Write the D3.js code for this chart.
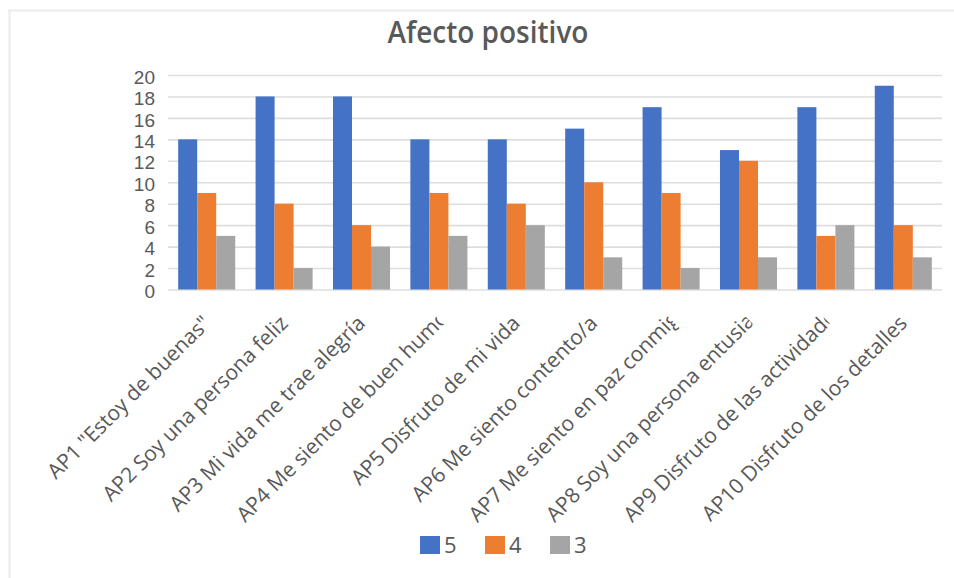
<!DOCTYPE html>
<html>
<head>
<meta charset="utf-8">
<script src="https://cdn.jsdelivr.net/npm/d3@7"></script>
<style>
  html, body { margin: 0; padding: 0; background: #fff; }
  svg { display: block; font-family: "Open Sans", "Noto Sans", sans-serif; }
</style>
</head>
<body>
<svg id="chart" width="954" height="578"></svg>
<script>
// Items of the "Afecto positivo" scale
const categories = [
  'AP1 "Estoy de buenas"',
  'AP2 Soy una persona feliz',
  'AP3 Mi vida me trae alegría',
  'AP4 Me siento de buen humor',
  'AP5 Disfruto de mi vida',
  'AP6 Me siento contento/a',
  'AP7 Me siento en paz conmigo',
  'AP8 Soy una persona entusiasta',
  'AP9 Disfruto de las actividades',
  'AP10 Disfruto de los detalles'
];
// Response counts per answer level
const seriesNames = ["5", "4", "3"];
const values5 = [14, 18, 18, 14, 14, 15, 17, 13, 17, 19];
const values4 = [9, 8, 6, 9, 8, 10, 9, 12, 5, 6];
const values3 = [5, 2, 4, 5, 6, 3, 2, 3, 6, 3];
const yTicks = [0, 2, 4, 6, 8, 10, 12, 14, 16, 18, 20];
const chartTitle = "Afecto positivo";

const seriesValues = [values5, values4, values3];
const colors = ["#4472C4", "#ED7D31", "#A5A5A5"];
const textColor = "#595959";

const svg = d3.select("#chart");

// Chart area frame (top and left edges)
svg.append("line").attr("x1", 8).attr("x2", 954).attr("y1", 10.5).attr("y2", 10.5)
  .attr("stroke", "#ebebeb").attr("stroke-width", 2);
svg.append("line").attr("x1", 9.5).attr("x2", 9.5).attr("y1", 10).attr("y2", 578)
  .attr("stroke", "#ebebeb").attr("stroke-width", 2);

const plot = { left: 168, right: 942, top: 75, bottom: 289.5 };

const y = d3.scaleLinear().domain([0, 20]).range([plot.bottom, plot.top]);
const x0 = d3.scaleBand().domain(categories).range([plot.left, plot.right]).paddingInner(0).paddingOuter(0);
const groupW = x0.bandwidth() * 0.737;
const groupOff = (x0.bandwidth() - groupW) / 2;
const x1 = d3.scaleBand().domain(seriesNames).range([0, groupW]).padding(0);

// Horizontal gridlines
const yAxis = d3.axisLeft(y).tickValues(yTicks).tickSize(-(plot.right - plot.left)).tickFormat("");
const gGrid = svg.append("g").attr("transform", `translate(${plot.left},0)`).call(yAxis);
gGrid.select(".domain").remove();
gGrid.selectAll(".tick line").attr("stroke", "#dedede").attr("stroke-width", 1.6);

// Y tick labels
svg.append("g").selectAll("text").data(yTicks).join("text")
  .attr("x", 155).attr("y", d => y(d) + 2)
  .attr("dy", "0.35em")
  .attr("text-anchor", "end")
  .attr("font-family", "'Liberation Sans', Arial, sans-serif")
  .attr("font-size", 19)
  .attr("fill", textColor)
  .text(d => d);

// Bars
const groups = svg.append("g").selectAll("g").data(categories).join("g")
  .attr("transform", d => `translate(${x0(d) + groupOff},0)`);
groups.selectAll("rect")
  .data((d, i) => seriesNames.map((s, k) => ({ s, k, v: seriesValues[k][i] })))
  .join("rect")
  .attr("x", d => x1(d.s))
  .attr("width", x1.bandwidth())
  .attr("y", d => y(d.v))
  .attr("height", d => y(0) - y(d.v))
  .attr("fill", d => colors[d.k]);

// Category labels, rotated; long ones are cut off at a maximum length
const maxLen = 281;
const defs = svg.append("defs");
defs.append("clipPath").attr("id", "labelClip")
  .append("rect").attr("x", -maxLen).attr("y", -40).attr("width", maxLen).attr("height", 60);

const labels = svg.append("g").selectAll("g").data(categories).join("g")
  .attr("transform", d => `translate(${x0(d) + x0.bandwidth() / 2 + 5},${plot.bottom + 35}) rotate(-45)`);
labels.append("text")
  .attr("font-size", 21)
  .attr("fill", textColor)
  .attr("clip-path", "url(#labelClip)")
  .text(d => d)
  .each(function () {
    const t = d3.select(this);
    const len = this.getComputedTextLength();
    if (len > maxLen) {
      t.attr("text-anchor", "start").attr("x", -maxLen);
    } else {
      t.attr("text-anchor", "end").attr("x", 0);
    }
  });

// Title, narrowed to the chart's title width
const title = svg.append("text")
  .attr("text-anchor", "middle")
  .attr("font-size", 31)
  .attr("font-weight", 600)
  .attr("fill", textColor)
  .text(chartTitle);
const tw = title.node().getComputedTextLength();
const sx = 201 / tw;
title.attr("transform", `translate(488,43) scale(${sx},1)`);

// Legend
const legend = svg.append("g").selectAll("g").data(seriesNames).join("g")
  .attr("transform", (d, i) => `translate(${420 + i * 65},536)`);
legend.append("rect").attr("width", 20).attr("height", 18).attr("fill", (d, i) => colors[i]);
legend.append("text").attr("x", 24).attr("y", 17)
  .attr("font-size", 22).attr("fill", textColor).text(d => d);
</script>
</body>
</html>
